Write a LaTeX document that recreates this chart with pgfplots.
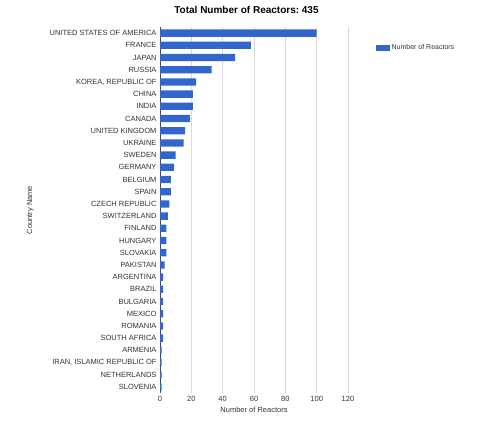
\documentclass[border=0pt]{standalone}
\usepackage{pgfplots}
\pgfplotsset{compat=1.18}
\usepackage{fontspec}
\setmainfont{Liberation Sans}
\definecolor{gblue}{HTML}{3366CC}
\definecolor{ggrid}{HTML}{D9D9D9}
\frenchspacing

\begin{document}
\begin{tikzpicture}
\path[use as bounding box] (0,0) rectangle (500bp,435bp);
\begin{axis}[
  at={(160bp,42bp)}, anchor=south west,
  scale only axis, width=188bp, height=366bp,
  xbar, bar width=7.3bp,
  xmin=0, xmax=120,
  ymin=-0.5, ymax=29.5, y dir=reverse,
  xtick={0,20,...,120},
  ytick={0,...,29},
  yticklabels={UNITED STATES OF AMERICA, FRANCE, JAPAN, RUSSIA, {KOREA, REPUBLIC OF}, CHINA, INDIA, CANADA, UNITED KINGDOM, UKRAINE, SWEDEN, GERMANY, BELGIUM, SPAIN, CZECH REPUBLIC, SWITZERLAND, FINLAND, HUNGARY, SLOVAKIA, PAKISTAN, ARGENTINA, BRAZIL, BULGARIA, MEXICO, ROMANIA, SOUTH AFRICA, ARMENIA, {IRAN, ISLAMIC REPUBLIC OF}, NETHERLANDS, SLOVENIA},
  /pgf/number format/assume math mode=true,
  tick label style={font=\fontsize{7.5bp}{8bp}\selectfont, text=black!80},
  major tick length=0pt,
  xmajorgrids, grid style={ggrid, line width=0.6pt},
  axis x line*=bottom, axis y line*=left,
  x axis line style={draw=none},
  y axis line style={draw=black!70, line width=0.8pt},
  xlabel={Number of Reactors},
  ylabel={Country Name},
  label style={font=\fontsize{7.5bp}{8bp}\selectfont, text=black!80},
  xlabel style={yshift=2bp},
  ylabel style={at={(rel axis cs:-0.69,0.5)}, anchor=center},
  title={Total Number of Reactors: 435},
  title style={font=\bfseries\fontsize{10bp}{12bp}\selectfont, at={(0.46,1)}, yshift=4bp},
  legend style={draw=none, fill=none, at={(1.13,0.943)}, anchor=west,
    font=\fontsize{7bp}{8bp}\selectfont, text=black!80},
  legend image code/.code={\fill[gblue] (0bp,-3bp) rectangle (14bp,3bp);},
]
\addplot[fill=gblue, draw=none] coordinates {
(100,0) (58,1) (48,2) (33,3) (23,4) (21,5) (21,6) (19,7) (16,8) (15,9)
(10,10) (9,11) (7,12) (7,13) (6,14) (5,15) (4,16) (4,17) (4,18) (3,19)
(2,20) (2,21) (2,22) (2,23) (2,24) (2,25) (1,26) (1,27) (1,28) (1,29)
};
\legend{Number of Reactors}
\end{axis}
\end{tikzpicture}
\end{document}
